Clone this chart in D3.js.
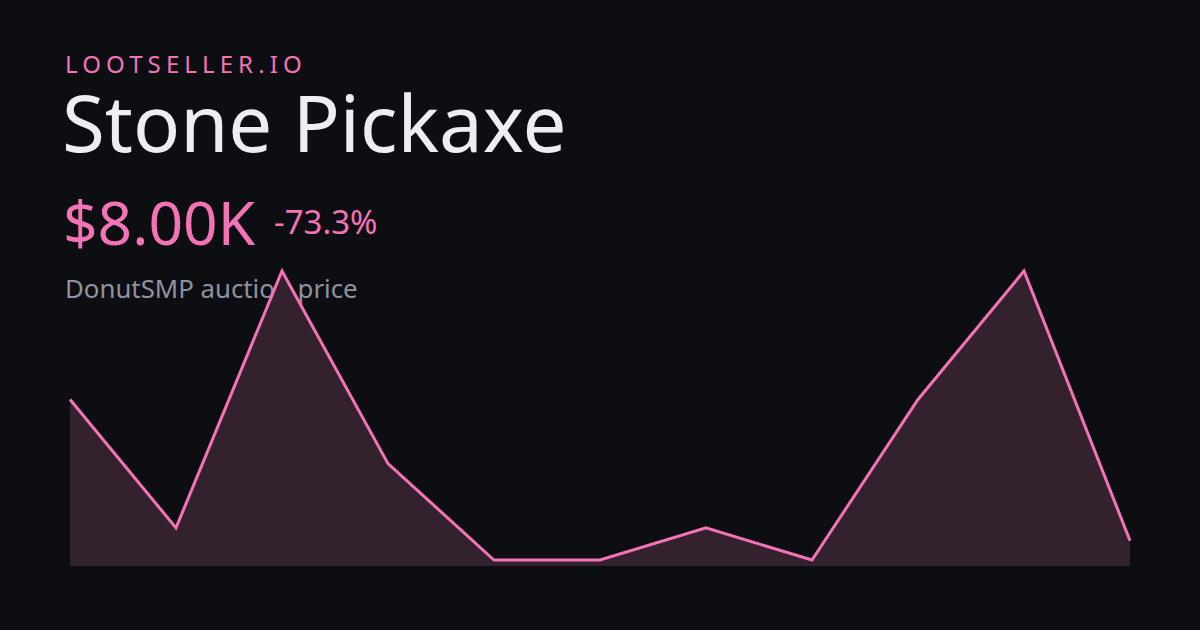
<!DOCTYPE html>
<html><head><meta charset="utf-8">
<script src="https://cdn.jsdelivr.net/npm/d3@7"></script>
<style>html,body{margin:0;padding:0;background:#0d0e11;}svg{display:block;}</style>
</head><body>
<svg id="c" width="1200" height="630"></svg>
<script>
const brand = "LOOTSELLER.IO";
const itemName = "Stone Pickaxe";
const priceLabel = "$8.00K";
const changeLabel = "-73.3%";
const subtitle = "DonutSMP auction price";
const points = [0,1,2,3,4,5,6,7,8,9,10];
const prices = [30, 10, 50, 20, 5, 5, 10, 5, 30, 50, 8]; // thousands

const svg = d3.select("#c");
const W = 1200, H = 630;
svg.append("rect").attr("width", W).attr("height", H).attr("fill", "#0d0e11");

const font = "'Noto Sans', 'Open Sans', sans-serif";
svg.append("text").attr("x", 65).attr("y", 73).text(brand)
  .attr("font-family", font).attr("font-size", 24).attr("letter-spacing", 5.1)
  .attr("fill", "#f472b6");
svg.append("text").attr("x", 62).attr("y", 152).text(itemName)
  .attr("font-family", font).attr("font-size", 78).attr("fill", "#eceef2");
svg.append("text").attr("x", 63).attr("y", 245).text(priceLabel)
  .attr("font-family", font).attr("font-size", 60.5).attr("fill", "#f472b6");
svg.append("text").attr("x", 274).attr("y", 234).text(changeLabel)
  .attr("font-family", font).attr("font-size", 33).attr("fill", "#f472b6");
svg.append("text").attr("x", 65).attr("y", 298).text(subtitle)
  .attr("font-family", font).attr("font-size", 25.8).attr("fill", "#8e93a3");

const x = d3.scaleLinear().domain([0, points.length - 1]).range([70, 1130]);
const y = d3.scaleLinear().domain([d3.min(prices), d3.max(prices)]).range([560, 271]);
const data = points.map((p, i) => ({p, v: prices[i]}));

const area = d3.area().x(d => x(d.p)).y0(566).y1(d => y(d.v));
const line = d3.line().x(d => x(d.p)).y(d => y(d.v));

svg.append("path").datum(data).attr("d", area).attr("fill", "#33212d");
svg.append("path").datum(data).attr("d", line).attr("fill", "none")
  .attr("stroke", "#f472b6").attr("stroke-width", 3).attr("stroke-linejoin", "miter");
</script>
</body></html>
